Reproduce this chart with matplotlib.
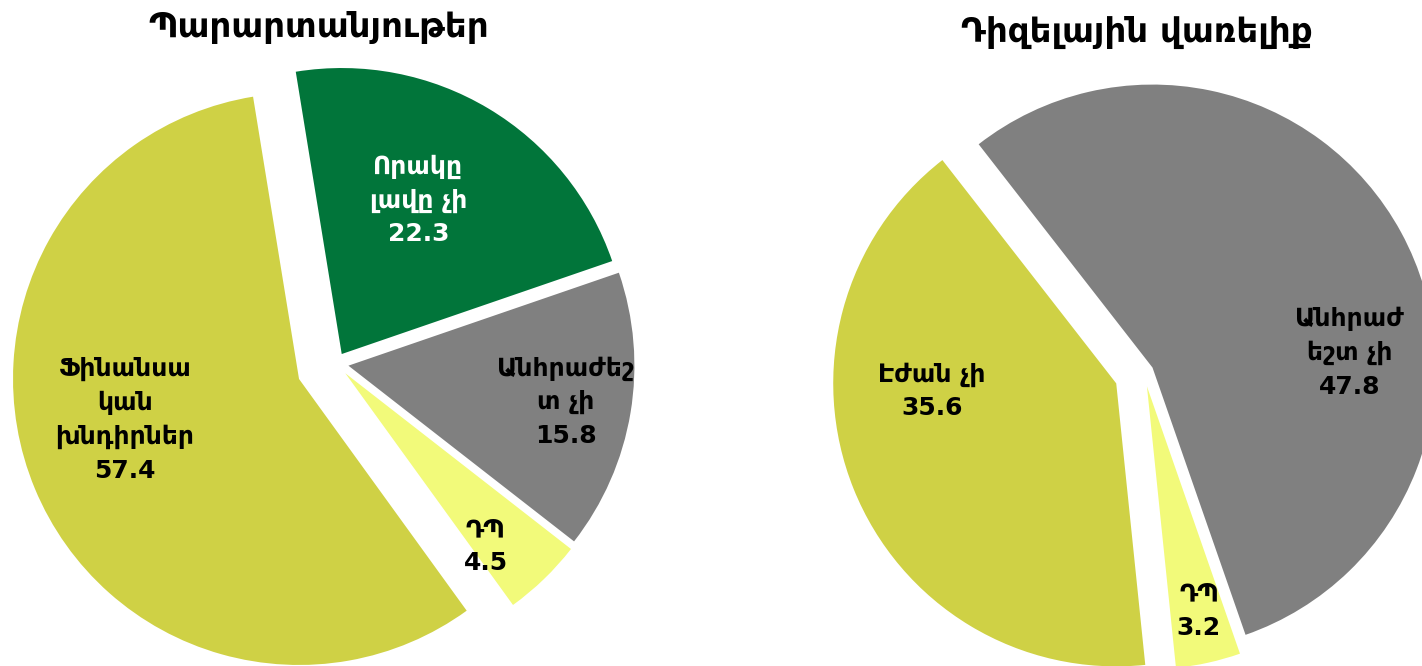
"""Two exploded pies: reasons for not using fertilisers / diesel fuel."""

import numpy as np
import matplotlib
matplotlib.use("Agg")
import matplotlib.pyplot as plt

plt.rcParams['font.family'] = ['DejaVu Sans']

# Fertilisers
fert_labels = ["Որակը\nլավը չի", "Անհրաժեշ\nտ չի", "ԴՊ", "Ֆինանսա\nկան\nխնդիրներ"]
fert_values = [22.3, 15.8, 4.5, 57.4]
fert_colors = ["#01753A", "#808080", "#F2FA7A", "#CFD145"]
fert_text_colors = ["white", "black", "black", "black"]

# Diesel fuel
fuel_labels = ["Անհրաժ\nեշտ չի", "ԴՊ", "Էժան չի"]
fuel_values = [47.8, 3.2, 35.6]
fuel_colors = ["#808080", "#F2FA7A", "#CFD145"]
fuel_text_colors = ["black", "black", "black"]

titles = ["Պարարտանյութեր", "Դիզելային վառելիք"]


def draw_pie(ax, values, labels, colors, text_colors, center, radius,
             start, explode, label_frac, label_dtheta):
    # pie's explode is in data units, so scale the fractions by the radius
    wedges, _ = ax.pie(values, colors=colors, startangle=start,
                       counterclock=False,
                       explode=[e * radius for e in explode],
                       center=center, radius=radius,
                       wedgeprops=dict(linewidth=0))
    for w, lab, val, tc, fr, dt in zip(wedges, labels, values, text_colors,
                                       label_frac, label_dtheta):
        mid = np.deg2rad((w.theta1 + w.theta2) / 2 + dt)
        x = w.center[0] + w.r * fr * np.cos(mid)
        y = w.center[1] + w.r * fr * np.sin(mid)
        ax.text(x, y, f"{lab}\n{val}", ha="center", va="center",
                fontsize=18, fontweight="bold", color=tc, linespacing=1.5)


W, H = 1422, 666
fig = plt.figure(figsize=(W / 100, H / 100), dpi=100)
ax = fig.add_axes([0, 0, 1, 1])

draw_pie(ax, fert_values, fert_labels, fert_colors, fert_text_colors,
         center=(336, H - 363.6), radius=286, start=99.25,
         explode=[0.039, 0.044, 0.047, 0.14],
         label_frac=[0.60, 0.77, 0.78, 0.625],
         label_dtheta=[4.4, 0, -5, -9.3])

draw_pie(ax, fuel_values, fuel_labels, fuel_colors, fuel_text_colors,
         center=(1143.8, H - 372.3), radius=283, start=127.9,
         explode=[0.035, 0.051, 0.105],
         label_frac=[0.70, 0.814, 0.652],
         label_dtheta=[-24.3, 0.5, -19.5])

ax.text(319, H - 28, titles[0], ha="center", va="center",
        fontsize=24.5, fontweight="bold")
ax.text(1137, H - 32, titles[1], ha="center", va="center",
        fontsize=24.5, fontweight="bold")

ax.set_xlim(0, W)
ax.set_ylim(0, H)
ax.set_aspect("equal")
ax.axis("off")

fig.savefig("out.png", dpi=100)
